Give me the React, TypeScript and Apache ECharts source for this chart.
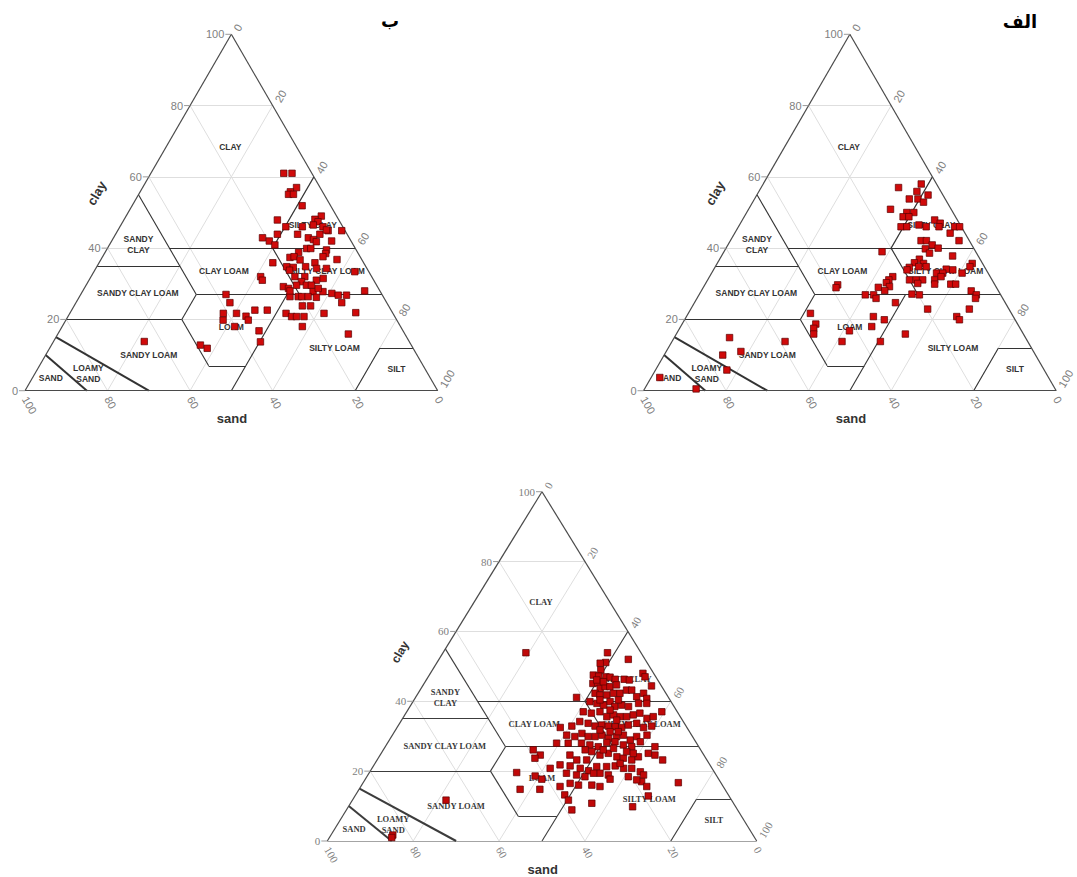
import React, { useEffect, useRef } from "react";
import * as echarts from "echarts";

// ---------- axis ticks ----------
const GRID_TICKS = [20, 40, 60, 80];
const AXIS_TICKS = [0, 20, 40, 60, 80, 100];

// ---------- USDA texture class boundaries, as [sand, clay] pairs ----------
const BOUNDARIES: number[][][] = [
  [[45, 40], [0, 40]],
  [[45, 27], [0, 27]],
  [[45, 55], [45, 27]],
  [[65, 35], [45, 35]],
  [[80, 20], [52, 20]],
  [[45, 27], [52, 20]],
  [[52, 20], [52, 7]],
  [[52, 7], [43, 7]],
  [[43, 7], [50, 0]],
  [[43, 7], [23, 27]],
  [[20, 40], [20, 27]],
  [[20, 40], [0, 60]],
  [[8, 12], [0, 12]],
  [[20, 0], [8, 12]],
];
const SAND_BOUNDARIES: number[][][] = [
  [[90, 10], [85, 0]],
  [[85, 15], [70, 0]],
];

// ---------- texture class names and where they sit (sand %, clay %) ----------
const REGION_NAMES = [
  "CLAY", "SILTY CLAY", "SANDY\nCLAY", "CLAY LOAM", "SILTY CLAY LOAM", "SANDY CLAY LOAM",
  "LOAM", "SILTY LOAM", "SANDY LOAM", "LOAMY\nSAND", "SAND", "SILT",
];
const REGION_SAND = [16, 7, 52, 35, 10, 59, 41, 19, 65, 82.3, 92, 7];
const REGION_CLAY = [68.5, 46.5, 41, 33.6, 33.6, 27.3, 18, 12, 10, 4.7, 3.5, 6];

// ---------- samples: panel ب (top left) ----------
const B_SAND = [
  6.8, 4.8, 5.7, 7.8, 8.6, 7.4, 6.9, 14.9, 3.7, 5.7, 5.3, 6.9, 9.8, 13.8, 4.8, 4.1, 0.8, 6.6, 4.4, 16.9,
  12.0, 21.0, 19.8, 19.0, 9.9, 8.9, 8.5, 4.7, 11.8, 10.8, 7.2, 7.9, 14.3, 17.1, 16.0, 9.0, 6.0, 22.0, 11.8, 15.0,
  19.2, 17.7, 19.0, 14.6, 12.2, 9.8, 3.4, 26.9, 27.0, 18.6, 16.2, 17.7, 13.9, 12.0, 22.8, 21.8, 19.4, 17.0, 15.8, 16.3,
  13.9, 12.0, 10.7, 8.7, 3.7, 22.6, 20.6, 19.7, 18.2, 16.3, 37.8, 38.0, 33.0, 30.0, 20.9, 18.9, 10.9, 16.7, 8.9, 41.1,
  42.1, 37.9, 36.0, 36.0, 40.2, 25.9, 25.0, 23.8, 22.0, 34.9, 36.1, 23.8, 13.7, 51.1, 49.9, 64.2, 21.8, 14.6,
];
const B_CLAY = [
  61.0, 61.0, 57.0, 55.8, 55.1, 55.1, 51.9, 47.9, 49.0, 48.1, 47.4, 46.5, 46.0, 46.0, 46.0, 44.9, 44.9, 43.9, 45.1, 43.9,
  43.9, 42.9, 42.0, 40.9, 42.9, 42.4, 41.8, 42.0, 39.9, 39.9, 39.5, 38.5, 38.8, 37.4, 37.6, 37.6, 36.8, 35.9, 35.9, 36.7,
  34.8, 34.6, 33.8, 34.8, 34.3, 34.3, 33.4, 32.0, 31.0, 32.0, 32.0, 30.6, 31.0, 31.5, 29.2, 28.7, 29.6, 29.6, 29.6, 27.8,
  27.8, 27.3, 26.8, 26.8, 28.0, 26.4, 26.4, 26.4, 26.4, 26.2, 27.0, 24.7, 22.6, 22.6, 23.8, 23.8, 24.7, 21.7, 21.9, 21.7,
  19.8, 21.7, 20.9, 19.8, 18.0, 21.7, 20.8, 20.8, 20.8, 16.8, 13.7, 18.0, 15.9, 12.8, 11.9, 13.8, 28.0, 28.7,
];

// ---------- samples: panel الف (top right) ----------
const ALEF_SAND = [
  48.7, 48.9, 50.0, 50.8, 71.7, 58.8, 75.8, 70.9, 76.9, 94.2, 87.0,
  3.7, 9.7, 5.8, 3.6, 8.7, 6.6, 5.7, 14.7, 11.2, 9.5, 12.7, 11.3, 5.5, 4.6, 10.0, 14.6, 13.2, 8.5, 5.4, 1.6,
  0.4, 3.6, 2.5, 11.7, 10.4, 9.6, 8.6, 11.8, 22.7, 11.4, 6.2, 14.7, 16.4, 14.3, 2.5, 18.3, 15.9, 14.1, 3.5, 9.6,
  8.1, 19.2, 12.5, 11.0, 6.3, 23.6, 25.0, 20.0, 18.4, 16.8, 13.9, 11.9, 18.5, 14.5, 10.6, 9.4, 38.1, 38.9, 26.0, 28.6,
  25.8, 27.5, 32.8, 30.8, 30.7, 21.4, 19.7, 6.6, 5.9, 6.6, 26.6, 19.7, 9.6, 33.9, 35.7, 31.7, 13.7, 13.5, 41.7, 45.0,
  35.7, 28.6,
];
const ALEF_CLAY = [
  21.7, 18.7, 17.5, 15.9, 14.9, 13.8, 10.0, 11.0, 5.8, 3.7, 0.5,
  58.0, 57.0, 55.9, 54.9, 53.8, 53.8, 52.9, 50.9, 50.0, 50.0, 48.8, 48.8, 47.9, 47.0, 46.5, 46.0, 46.0, 46.0, 46.0, 46.0,
  46.0, 44.2, 42.1, 42.1, 42.1, 40.9, 40.0, 39.8, 39.0, 38.6, 37.8, 36.9, 35.9, 35.7, 35.7, 34.6, 34.8, 34.8, 34.8, 34.1,
  33.9, 33.9, 33.0, 33.0, 33.0, 32.0, 31.1, 31.1, 31.1, 31.1, 31.1, 32.0, 30.1, 29.9, 29.9, 29.9, 29.7, 28.9, 30.3, 29.0,
  29.2, 28.1, 26.9, 26.9, 25.9, 27.1, 26.9, 28.0, 26.9, 25.9, 24.7, 22.9, 22.9, 20.8, 18.0, 19.9, 20.8, 19.9, 16.8, 13.8,
  13.8, 15.9,
];

// ---------- samples: bottom panel ----------
const C_SAND = [
  26.8, 7.8, 3.9, 9.6, 11.0, 11.8, 14.3, 13.2, 11.6, 10.7, 9.8, 7.7, 6.6, 2.5, 2.5, 2.3, 15.6, 14.4, 14.6, 13.2,
  12.1, 16.5, 15.6, 14.0, 12.2, 10.7, 8.7, 7.5, 7.3, 5.2, 5.2, 21.4, 18.9, 17.5, 16.2, 14.2, 13.8, 12.0, 10.6, 7.8,
  5.9, 3.6, 21.9, 20.2, 18.0, 17.1, 15.3, 14.0, 12.5, 10.7, 8.9, 8.0, 6.3, 29.5, 26.6, 24.1, 22.4, 21.2, 19.5, 18.1,
  16.6, 15.2, 13.3, 11.1, 10.1, 8.0, 29.1, 27.4, 25.3, 24.3, 22.7, 20.9, 19.8, 17.7, 15.9, 15.0, 13.0, 10.4, 32.6, 29.9,
  26.8, 25.1, 23.4, 20.8, 18.8, 17.3, 15.6, 12.9, 10.2, 39.0, 38.1, 39.8, 25.6, 24.2, 22.0, 20.5, 19.2, 17.5, 15.5, 12.7,
  11.4, 10.3, 31.2, 30.3, 34.9, 32.7, 30.7, 29.1, 26.6, 24.3, 22.2, 20.6, 18.7, 17.2, 16.9, 46.1, 37.7, 42.3, 41.2, 34.6,
  32.5, 30.8, 26.8, 25.1, 25.3, 18.3, 9.9, 47.7, 43.1, 38.0, 35.2, 33.5, 30.4, 28.7, 17.8, 38.1, 38.0, 33.0, 38.6, 18.8,
  24.0, 66.5, 83.9, 84.5, 14.2, 12.9, 10.3, 16.3, 12.0, 15.4, 15.3, 20.6, 18.5, 16.6, 22.7, 20.1, 17.5, 16.2, 20.7, 20.7,
  19.2, 28.0, 28.3, 26.9,
];
const C_CLAY = [
  53.9, 53.9, 52.0, 51.1, 50.9, 49.0, 47.5, 47.2, 47.0, 46.9, 46.3, 46.3, 46.1, 48.0, 47.0, 44.4, 45.1, 45.3, 43.7, 44.2,
  44.2, 42.3, 41.8, 41.8, 42.3, 42.3, 43.2, 43.2, 41.3, 42.3, 40.8, 41.1, 39.9, 39.4, 38.9, 39.9, 38.5, 38.9, 38.5, 39.4,
  39.4, 37.0, 37.0, 36.6, 37.0, 35.6, 36.1, 35.6, 35.6, 36.1, 36.6, 35.1, 35.6, 32.5, 32.9, 34.2, 33.7, 32.9, 33.2, 32.9,
  32.7, 32.5, 33.2, 33.7, 32.5, 32.9, 30.3, 29.9, 30.8, 29.9, 29.9, 30.3, 29.4, 29.9, 30.3, 28.9, 29.9, 30.3, 28.0, 28.0,
  28.0, 27.5, 27.0, 28.2, 28.4, 27.5, 27.0, 28.4, 27.0, 26.1, 24.6, 23.7, 25.6, 24.6, 25.1, 24.1, 23.7, 23.2, 24.1, 25.1,
  24.6, 23.2, 24.6, 23.2, 21.8, 21.5, 20.8, 20.1, 21.3, 21.3, 21.5, 20.8, 20.8, 19.8, 18.9, 19.6, 20.8, 18.6, 17.7, 19.4,
  18.9, 18.4, 19.4, 18.9, 17.7, 17.0, 16.7, 14.8, 14.8, 15.6, 16.5, 16.0, 16.0, 15.6, 15.6, 13.2, 11.7, 10.8, 8.9, 12.9,
  9.8, 11.7, 1.7, 1.0, 46.1, 45.6, 44.7, 40.4, 40.4, 37.5, 34.6, 31.8, 31.3, 31.3, 26.1, 26.5, 25.6, 25.1, 22.2, 18.4,
  17.5, 23.2, 19.4, 26.1,
];

const toXY = (sand: number, clay: number) => [100 - sand - clay / 2, clay];

const GRIDS = [
  { left: 25, top: 34.3, width: 412.7, height: 356.4 },
  { left: 643.5, top: 34.3, width: 412.7, height: 356.4 },
  { left: 327.3, top: 491.7, width: 429.4, height: 349.3 },
];

const SANS = "'Liberation Sans', Arial, sans-serif";
const SERIF = "'Liberation Serif', 'DejaVu Serif', serif";

function panelSeries(gi: number, sand: number[], clay: number[], serif: boolean) {
  const font = serif ? SERIF : SANS;
  const base = { xAxisIndex: gi, yAxisIndex: gi, silent: true, animation: false };
  const seg = (a: number[], b: number[]) => ({ coords: [toXY(a[0], a[1]), toXY(b[0], b[1])] });
  const gridSegs: any[] = [];
  GRID_TICKS.forEach((k) => {
    gridSegs.push(seg([100 - k, k], [0, k]));
    gridSegs.push(seg([k, 0], [k, 100 - k]));
    gridSegs.push(seg([100 - k, 0], [0, 100 - k]));
  });
  const outline = [seg([100, 0], [0, 100]), seg([0, 100], [0, 0]), seg([0, 0], [100, 0])];
  const hidden = { color: "rgba(0,0,0,0)" };
  const tickColor = "#808080";
  const lineColor = serif ? "#3c3c3c" : "#333";
  const tickLabel = { color: tickColor, fontSize: 11, fontFamily: font, textBorderWidth: 0, opacity: 1 };
  return [
    { ...base, type: "lines", coordinateSystem: "cartesian2d", data: gridSegs, lineStyle: { color: "#dedede", width: 1, opacity: 1 }, z: 1 },
    { ...base, type: "lines", coordinateSystem: "cartesian2d", data: BOUNDARIES.map((s) => seg(s[0], s[1])), lineStyle: { color: lineColor, width: 1.1, opacity: 1 }, z: 2 },
    { ...base, type: "lines", coordinateSystem: "cartesian2d", data: SAND_BOUNDARIES.map((s) => seg(s[0], s[1])), lineStyle: { color: lineColor, width: 2, opacity: 1 }, z: 2 },
    { ...base, type: "lines", coordinateSystem: "cartesian2d", data: outline, lineStyle: { color: "#4a4a4a", width: 1.2, opacity: 1 }, z: 3 },
    // clay ticks + labels
    {
      ...base, type: "scatter", symbol: "rect", symbolSize: [6, 1], symbolOffset: [-3, 0],
      itemStyle: { color: "#9a9a9a", opacity: 1 }, z: 4,
      data: AXIS_TICKS.map((k) => ({ name: String(k), value: toXY(100 - k, k) })),
      label: { show: true, formatter: "{b}", position: "left", distance: 1, ...tickLabel },
    },
    // sand labels
    {
      ...base, type: "scatter", symbolSize: 0.1, itemStyle: hidden, z: 4,
      data: AXIS_TICKS.map((k) => ({ name: String(k), value: toXY(k, 0) })),
      label: { show: true, formatter: "{b}", position: [0, 6.5], rotate: -60, align: "left", verticalAlign: "middle", ...tickLabel },
    },
    // silt labels
    {
      ...base, type: "scatter", symbolSize: 0.1, itemStyle: hidden, z: 4,
      data: AXIS_TICKS.map((k) => ({ name: String(k), value: toXY(0, 100 - k) })),
      label: { show: true, formatter: "{b}", position: [5, -4], rotate: 60, align: "left", verticalAlign: "middle", ...tickLabel },
    },
    // region names
    {
      ...base, type: "scatter", symbolSize: 0.1, itemStyle: hidden, z: 5,
      data: REGION_NAMES.map((n, i) => ({ name: n, value: toXY(REGION_SAND[i], REGION_CLAY[i]) })),
      label: {
        show: true, formatter: "{b}", position: "inside", color: serif ? "#3a3a3a" : "#333", opacity: 1,
        fontSize: 8.5, fontWeight: "bold", fontFamily: font, lineHeight: 11, align: "center", verticalAlign: "middle",
      },
    },
    // samples
    {
      xAxisIndex: gi, yAxisIndex: gi, animation: false, type: "scatter", symbol: "rect", symbolSize: 6.5, z: 6,
      itemStyle: { color: serif ? "#c00808" : "#d00a0a", borderColor: "#5a0000", borderWidth: 0.7, opacity: 1 },
      data: sand.map((s, i) => toXY(s, clay[i])),
    },
  ];
}

const text = (x: number, y: number, t: string, font: string, rotation = 0, fill = "#333") => ({
  type: "text", x, y, rotation, silent: true,
  style: { text: t, font, fill, align: "center", verticalAlign: "middle" },
});

export default function App() {
  const ref = useRef<HTMLDivElement>(null);
  useEffect(() => {
    if (!ref.current) return;
    const chart = echarts.init(ref.current, undefined, { renderer: "svg" });
    const option: any = {
      animation: false,
      backgroundColor: "#ffffff",
      grid: GRIDS.map((g) => ({ ...g, containLabel: false })),
      xAxis: GRIDS.map((_, i) => ({ type: "value", min: 0, max: 100, show: false, gridIndex: i })),
      yAxis: GRIDS.map((_, i) => ({ type: "value", min: 0, max: 100, show: false, gridIndex: i })),
      series: [
        ...panelSeries(0, B_SAND, B_CLAY, false),
        ...panelSeries(1, ALEF_SAND, ALEF_CLAY, false),
        ...panelSeries(2, C_SAND, C_CLAY, true),
      ],
      graphic: [
        text(390, 20, "ب", "bold 18px 'DejaVu Sans'", 0, "#000"),
        text(1020, 21, "الف", "bold 18px 'DejaVu Sans'", 0, "#000"),
        text(96.7, 193.3, "clay", "bold 13px " + SANS, Math.PI / 3),
        text(715.2, 193.3, "clay", "bold 13px " + SANS, Math.PI / 3),
        text(400, 652, "clay", "bold 12px " + SANS, Math.PI / 3),
        text(232, 418, "sand", "bold 13px " + SANS),
        text(851, 418, "sand", "bold 13px " + SANS),
        text(542.7, 869, "sand", "bold 13px " + SANS),
      ],
    };
    chart.setOption(option);
    return () => chart.dispose();
  }, []);
  return <div ref={ref} style={{ position: "absolute", left: 0, top: 0, width: 1077, height: 877 }} />;
}
